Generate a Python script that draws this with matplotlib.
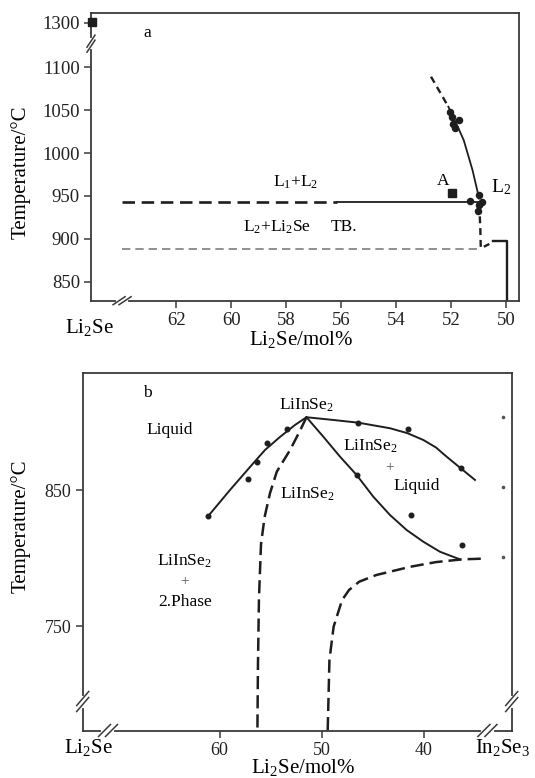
import numpy as np
import matplotlib
matplotlib.use("Agg")
import matplotlib.pyplot as plt
from matplotlib.lines import Line2D

plt.rcParams['font.family'] = ['Liberation Serif', 'DejaVu Serif']
plt.rcParams['mathtext.fontset'] = 'custom'
plt.rcParams['mathtext.rm'] = 'Liberation Serif'
plt.rcParams['mathtext.it'] = 'Liberation Serif:italic'
plt.rcParams['lines.scale_dashes'] = False

# ---------------- Panel a data ----------------
a_xticks = [62, 60, 58, 56, 54, 52, 50]
a_yticks = [850, 900, 950, 1000, 1050, 1100]
a_break_tick_pos = 1152          # position on the broken axis used for the "1300" label
a_break_tick_label = "1300"

a_mono_T = 943
a_mono_dash_x = [63.97, 56.15]
a_mono_solid_x = [56.15, 51.0]
a_eut_T = 888.7
a_eut_x = [63.97, 50.86]
a_liq_dash_top_x = [52.73, 52.10]
a_liq_dash_top_T = [1089, 1054]
a_liq_x = [52.10, 51.82, 51.54, 51.22, 50.98]
a_liq_T = [1054, 1035, 1015, 980, 947]
a_liq_dash_low_x = [50.98, 50.94, 50.92, 50.61]
a_liq_dash_low_T = [940, 915, 889, 894]
a_step_x = [50.49, 49.95, 49.95]
a_step_T = [898, 898, 827.9]
a_pts_x = [52.04, 51.98, 51.73, 51.86, 51.92, 50.98, 50.86, 51.02, 51.30, 51.0]
a_pts_T = [1048, 1042, 1038, 1029, 1034, 951, 943, 932, 944, 939]
a_sqA = (51.98, 953)
a_sq1300 = (65.08, 1153)

# ---------------- Panel b data ----------------
b_xticks = [60, 50, 40]
b_yticks = [850, 750]
b_liqL_x = [61.12, 58.99, 57.03, 55.56, 54.09, 52.62, 51.49]
b_liqL_T = [830.9, 850, 866.9, 879.4, 889, 897.8, 903.5]
b_liqR_x = [51.49, 49.0, 46.41, 43.3, 41.6, 40.04, 38.8, 37.75, 36.37, 34.97]
b_liqR_T = [903.5, 901.6, 899.5, 895.4, 891.8, 886.8, 881.3, 874.5, 866, 857.4]
b_solR_x = [51.49, 49.84, 48.2, 46.57, 44.94, 43.3, 41.67, 40.04, 38.4, 36.44]
b_solR_T = [903.5, 889.2, 874.5, 861, 845.1, 831.6, 820.6, 812, 804.6, 799]
b_dashL_x = [51.49, 52.1, 53.1, 54.4, 55.07, 55.6, 55.95, 56.15, 56.25, 56.3]
b_dashL_T = [903.5, 894, 879.4, 863.5, 847.6, 830, 810, 770, 720, 673.2]
b_dashR_x = [34.4, 36.26, 38.8, 41.29, 44.65, 46.32, 47.32, 48.0, 48.83, 49.24, 49.41]
b_dashR_T = [799.5, 799, 797, 793.6, 787.5, 782.6, 776.5, 769.1, 749.5, 725, 673.2]
b_pts_x = [61.12, 57.2, 56.31, 55.33, 53.43, 46.41, 41.51, 36.37, 46.57, 41.27, 36.27]
b_pts_T = [830.9, 858.1, 870.8, 884.8, 894.9, 899.5, 894.6, 866, 861, 831.6, 809.6]
b_small_x = [32.24, 32.24, 32.24]
b_small_T = [903.4, 852, 801]

W, H = 535, 778
fig = plt.figure(figsize=(W / 100, H / 100), dpi=100)
fig.patch.set_facecolor('white')

spine_c = '#3a3a3a'
line_c = '#1e1e1e'


def make_ax(l, t, r, b, ls):
    ax = fig.add_axes([l / W, 1 - b / H, (r - l) / W, (b - t) / H])
    for s in ax.spines.values():
        s.set_color(spine_c)
        s.set_linewidth(1.3)
    ax.tick_params(direction='out', length=5, width=1.1, color=spine_c,
                   labelsize=ls, top=False, right=False, pad=3, labelcolor='#222222')
    return ax


def slash_pair(ax, fx, fy, vertical_spine, gap=5, hx=5, hy=6):
    px, py = ax.transAxes.transform((fx, fy))
    if vertical_spine:
        fig.add_artist(Line2D([px, px], [py - gap / 2 - 1, py + gap / 2 + 1],
                              transform=None, color='white', lw=3))
        for d in (-gap / 2, gap / 2):
            fig.add_artist(Line2D([px - hx, px + hx], [py + d - hy, py + d + hy],
                                  transform=None, color=spine_c, lw=1.1))
    else:
        fig.add_artist(Line2D([px - gap / 2 - 1, px + gap / 2 + 1], [py, py],
                              transform=None, color='white', lw=3))
        for d in (-gap / 2, gap / 2):
            fig.add_artist(Line2D([px + d - hx, px + d + hx], [py - hy, py + hy],
                                  transform=None, color=spine_c, lw=1.1))


# ================= Panel a =================
axa = make_ax(91, 13.3, 519, 300.7, 13.5)
axa.set_xlim(65.10, 49.53)
axa.set_ylim(827.9, 1162.9)
axa.set_xticks(a_xticks)
axa.set_xticklabels([str(v) for v in a_xticks])
axa.set_yticks(a_yticks + [a_break_tick_pos])
axa.set_yticklabels([str(v) for v in a_yticks] + [a_break_tick_label])

axa.plot(a_mono_dash_x, [a_mono_T] * 2, color=line_c, lw=1.9, linestyle=(0, (9.0, 4.8)))
axa.plot(a_mono_solid_x, [a_mono_T] * 2, color=line_c, lw=1.3)
axa.plot(a_eut_x, [a_eut_T] * 2, color='#909090', lw=1.4, linestyle=(0, (6.0, 3.6)))
axa.plot(a_liq_dash_top_x, a_liq_dash_top_T, color=line_c, lw=1.7, linestyle=(0, (5, 3.5)))
axa.plot(a_liq_x, a_liq_T, color=line_c, lw=1.3)
axa.plot(a_liq_dash_low_x, a_liq_dash_low_T, color=line_c, lw=1.7, linestyle=(0, (5, 3.5)))
axa.plot(a_step_x, a_step_T, color=line_c, lw=1.7)
axa.plot(a_pts_x, a_pts_T, 'o', color=line_c, ms=4.4, ls='none')
axa.plot([a_sqA[0]], [a_sqA[1]], 's', color=line_c, ms=5.3)
axa.plot([a_sq1300[0]], [a_sq1300[1]], 's', color=line_c, ms=5.6, clip_on=False, zorder=5)

axa.text(63.06, 1139.5, 'a', fontsize=12.5, ha='center', va='center')
axa.text(57.65, 965.8, r'L$_\mathrm{1}$+L$_\mathrm{2}$', fontsize=12.5, ha='center', va='center')
axa.text(58.33, 914, r'L$_\mathrm{2}$+Li$_\mathrm{2}$Se', fontsize=12.5, ha='center', va='center')
axa.text(55.90, 914, 'TB.', fontsize=12.5, ha='center', va='center')
axa.text(52.29, 967.8, 'A', fontsize=12.5, ha='center', va='center')
axa.text(50.17, 960, r'L$_\mathrm{2}$', fontsize=14, ha='center', va='center')

slash_pair(axa, 0.0, (1127.5 - 827.9) / (1162.9 - 827.9), True, gap=5, hx=4, hy=6)
slash_pair(axa, (65.10 - 63.97) / (65.10 - 49.53), 0.0, False, gap=6, hx=6, hy=4)

fig.text(89 / W, 1 - 328 / H, r'Li$_\mathrm{2}$Se', fontsize=15, ha='center', va='center')
fig.text(301 / W, 1 - 340 / H, r'Li$_\mathrm{2}$Se/mol%', fontsize=15, ha='center', va='center')
fig.text(21 / W, 1 - 172 / H, 'Temperature/°C', fontsize=15, ha='center', va='center',
         rotation=90)

# ================= Panel b =================
axb = make_ax(82.7, 373.3, 511.7, 730.5, 13)
axb.set_xlim(73.43, 31.37)
axb.set_ylim(673.2, 935.8)
axb.set_xticks(b_xticks)
axb.set_xticklabels([str(v) for v in b_xticks])
axb.set_yticks(b_yticks)
axb.set_yticklabels([str(v) for v in b_yticks])

dash_b = (0, (9.5, 4.3))
axb.plot(b_liqL_x, b_liqL_T, color=line_c, lw=1.4)
axb.plot(b_liqR_x, b_liqR_T, color=line_c, lw=1.4)
axb.plot(b_solR_x, b_solR_T, color=line_c, lw=1.4)
axb.plot(b_dashL_x, b_dashL_T, color=line_c, lw=1.8, linestyle=dash_b)
axb.plot(b_dashR_x, b_dashR_T, color=line_c, lw=1.8, linestyle=dash_b)
axb.plot(b_pts_x, b_pts_T, 'o', color=line_c, ms=3.3, ls='none')
axb.plot(b_small_x, b_small_T, 'o', color='#555555', ms=1.6, ls='none')

axb.text(67.05, 921, 'b', fontsize=12.5, ha='center', va='center')
axb.text(51.52, 912.5, r'LiInSe$_\mathrm{2}$', fontsize=12.5, ha='center', va='center')
axb.text(64.94, 894, 'Liquid', fontsize=12.5, ha='center', va='center')
axb.text(45.26, 881.8, r'LiInSe$_\mathrm{2}$', fontsize=12.5, ha='center', va='center')
axb.text(43.37, 866.4, '+', fontsize=11, ha='center', va='center', color='#555555')
axb.text(40.69, 853, 'Liquid', fontsize=12.5, ha='center', va='center')
axb.text(51.42, 846.5, r'LiInSe$_\mathrm{2}$', fontsize=12.5, ha='center', va='center')
axb.text(63.43, 797.3, r'LiInSe$_\mathrm{2}$', fontsize=12.5, ha='center', va='center')
axb.text(63.43, 782.6, '+', fontsize=11, ha='center', va='center', color='#555555')
axb.text(63.43, 767.9, '2.Phase', fontsize=12.5, ha='center', va='center')

fy_b = (694.5 - 673.2) / (935.8 - 673.2)
slash_pair(axb, 0.0, fy_b, True, gap=6, hx=6, hy=7)
slash_pair(axb, 1.0, fy_b, True, gap=6, hx=6, hy=7)
slash_pair(axb, (73.43 - 70.95) / (73.43 - 31.37), 0.0, False, gap=7, hx=6, hy=6)
slash_pair(axb, (73.43 - 33.75) / (73.43 - 31.37), 0.0, False, gap=7, hx=6, hy=6)

fig.text(88 / W, 1 - 748 / H, r'Li$_\mathrm{2}$Se', fontsize=15, ha='center', va='center')
fig.text(503 / W, 1 - 748 / H, r'In$_\mathrm{2}$Se$_\mathrm{3}$', fontsize=15, ha='center', va='center')
fig.text(303 / W, 1 - 768 / H, r'Li$_\mathrm{2}$Se/mol%', fontsize=15, ha='center', va='center')
fig.text(21 / W, 1 - 526 / H, 'Temperature/°C', fontsize=15, ha='center', va='center',
         rotation=90)

fig.savefig('out.png', dpi=100, facecolor='white')
